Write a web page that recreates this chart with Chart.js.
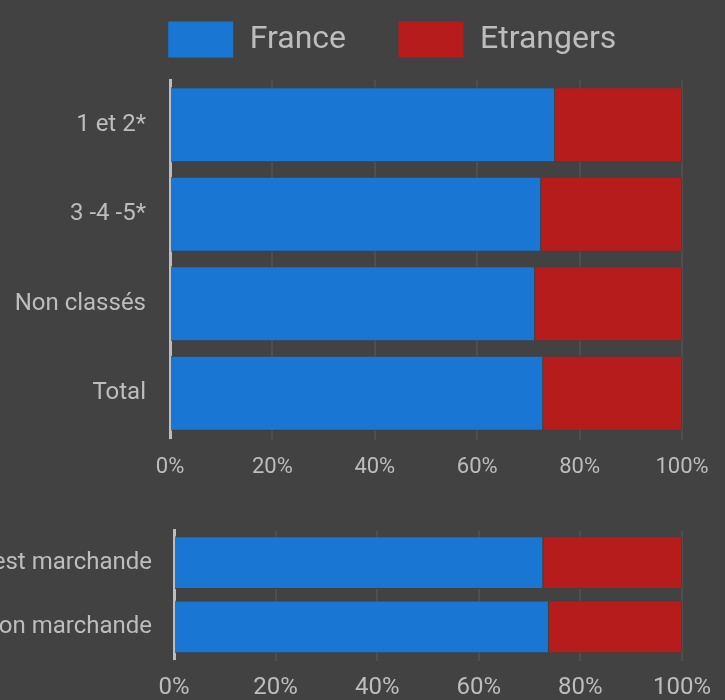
<!DOCTYPE html>
<html><head><meta charset="utf-8">
<script src="https://cdn.jsdelivr.net/npm/chart.js@4"></script>
<style>
html,body{margin:0;padding:0;background:#424242;width:725px;height:700px;overflow:hidden;position:relative}
#w1{position:absolute;left:0;top:-31px;width:725px;height:519px}
#w2{position:absolute;left:0;top:516px;width:725px;height:184px}
</style></head><body>
<div id="w1"><canvas id="c1"></canvas></div>
<div id="w2"><canvas id="c2"></canvas></div>
<script>
const seriesNames = ['France', 'Etrangers'];
const categoriesTop = ['1 et 2*', '3 -4 -5*', 'Non classés', 'Total'];
const franceTop = [75.2, 72.5, 71.3, 72.9];
const etrangersTop = [24.8, 27.5, 28.7, 27.1];
const categoriesBottom = ['Offre est marchande', 'Offre non marchande'];
const franceBottom = [72.7, 73.8];
const etrangersBottom = [27.3, 26.2];
const tickStep = 20;
const tickSuffix = '%';

const BG = '#424242';
const TEXT = '#bdbdbd';
const BLUE = '#1976d2';
const RED = '#b71c1c';

Chart.defaults.font.family = 'Roboto';
Chart.defaults.color = TEXT;
Chart.defaults.animation = false;

const legendSpacer = {
  id: 'legendSpacer',
  beforeInit(chart) {
    if (!chart.legend) return;
    const orig = chart.legend.fit;
    chart.legend.fit = function () { orig.call(this); this.height += 12; };
  },
  afterLayout(chart) {
    if (chart.legend) { chart.legend.left = 102; }
  }
};

function makeDatasets(fr, et, pct) {
  return [
    { label: seriesNames[0], data: fr, backgroundColor: BLUE, borderColor: BG, borderWidth: 1,
      barPercentage: pct, categoryPercentage: 1 },
    { label: seriesNames[1], data: et, backgroundColor: RED, borderColor: BG, borderWidth: 1,
      barPercentage: pct, categoryPercentage: 1 }
  ];
}

function scales(xFont, yFont, yWidth, yGap, xHeight, xPad) {
  return {
    x: {
      stacked: true, min: 0, max: 100,
      ticks: { stepSize: tickStep, callback: v => v + tickSuffix, font: { size: xFont }, color: TEXT, padding: xPad },
      grid: { color: '#4e4e4e', lineWidth: 2, tickLength: 2, drawTicks: true },
      border: { display: false },
      afterFit: s => { s.height = xHeight; }
    },
    y: {
      stacked: true,
      ticks: { font: { size: yFont }, color: TEXT, padding: 0 },
      grid: { display: false, drawTicks: true, tickLength: yGap },
      border: { display: true, color: '#bdbdbd', width: 3 },
      afterFit: s => { s.width = yWidth; }
    }
  };
}

new Chart(document.getElementById('c1'), {
  type: 'bar',
  data: { labels: categoriesTop, datasets: makeDatasets(franceTop, etrangersTop, 0.84) },
  options: {
    indexAxis: 'y',
    responsive: true, maintainAspectRatio: false,
    layout: { padding: { left: 0, right: 43, top: 0, bottom: 0 } },
    plugins: {
      legend: {
        position: 'top',
        labels: { boxWidth: 66, boxHeight: 37, padding: 52, font: { size: 32 }, color: TEXT }
      },
      tooltip: { enabled: false }
    },
    scales: scales(22, 24, 170, 24, 50, 14)
  },
  plugins: [legendSpacer]
});

new Chart(document.getElementById('c2'), {
  type: 'bar',
  data: { labels: categoriesBottom, datasets: makeDatasets(franceBottom, etrangersBottom, 0.82) },
  options: {
    indexAxis: 'y',
    responsive: true, maintainAspectRatio: false,
    layout: { padding: { left: 0, right: 43, top: 0, bottom: 0 } },
    plugins: { legend: { display: false }, tooltip: { enabled: false } },
    scales: scales(24, 24, 174, 22, 41, 13)
  }
});
</script>
</body></html>
